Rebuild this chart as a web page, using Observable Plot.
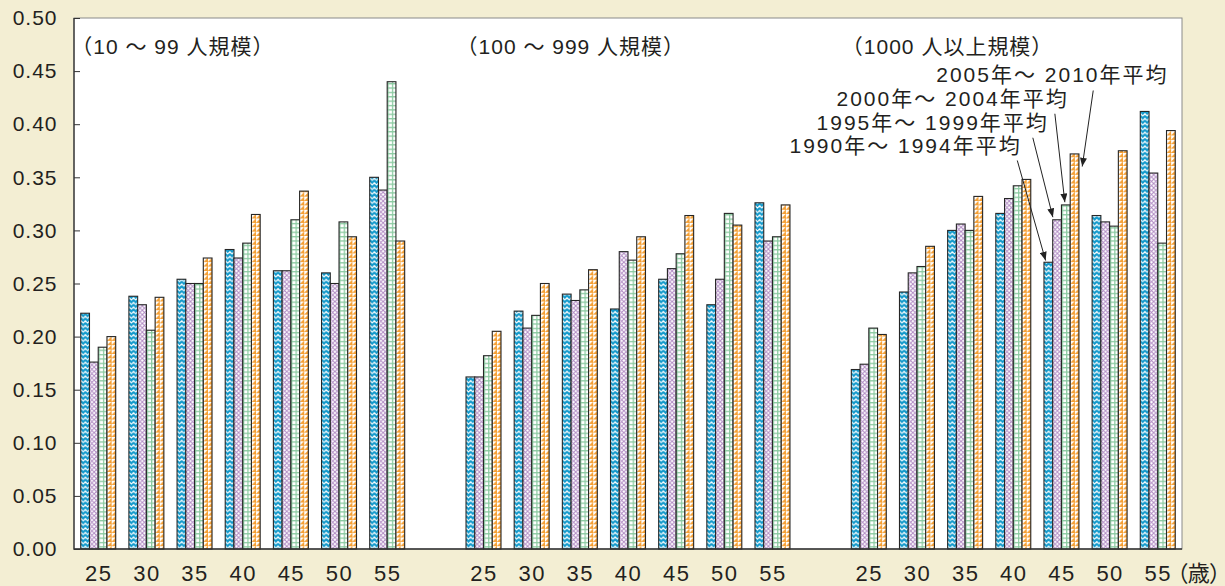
<!DOCTYPE html>
<html><head><meta charset="utf-8">
<script src="https://cdn.jsdelivr.net/npm/d3@7"></script>
<script src="https://cdn.jsdelivr.net/npm/@observablehq/plot@0.6"></script>
<style>
html,body{margin:0;padding:0;background:#f3eed3;}
#chart{width:1225px;height:586px;position:relative;}
#defs{position:absolute;width:0;height:0;}
</style></head><body>
<svg id="defs" width="0" height="0"><defs>
  <pattern id="p0" patternUnits="userSpaceOnUse" width="4.37" height="4.6">
    <rect width="4.37" height="4.6" fill="#fff"/>
    <path d="M-0.2,0.8 L2.185,3.3 L4.57,0.8" fill="none" stroke="#1299cb" stroke-width="2.1"/>
  </pattern>
  <pattern id="p1" patternUnits="userSpaceOnUse" width="4.37" height="4.37">
    <rect width="4.37" height="4.37" fill="#fff"/>
    <path d="M0,0 L4.37,4.37 M4.37,0 L0,4.37" fill="none" stroke="#b18bc4" stroke-width="1.05"/>
  </pattern>
  <pattern id="p2" patternUnits="userSpaceOnUse" width="4.37" height="4.37">
    <rect width="4.37" height="4.37" fill="#fff"/>
    <path d="M0.6,0 V4.37 M0,0.6 H4.37" fill="none" stroke="#8ac9a0" stroke-width="1.25"/>
  </pattern>
  <pattern id="p3" patternUnits="userSpaceOnUse" width="4.37" height="4.37">
    <rect width="4.37" height="4.37" fill="#fff"/>
    <path d="M4.5,-0.4 L4.5,4.5 L-0.4,4.5 Z" fill="#f59f33"/>
  </pattern>
  <marker id="ahead" viewBox="0 0 10 8" refX="10" refY="4" markerWidth="9" markerHeight="7" markerUnits="userSpaceOnUse" orient="auto">
    <path d="M0,0 L10,4 L0,8 Z" fill="#222"/>
  </marker>
</defs></svg>
<div id="chart"></div>
<script>
// ---- data ----
const groupKeys = ["g1", "g2", "g3"];
const groupLabels = ["（10 ～ 99 人規模）", "（100 ～ 999 人規模）", "（1000 人以上規模）"];
const ages = ["25", "30", "35", "40", "45", "50", "55"];
const seriesNames = ["1990年～ 1994年平均", "1995年～ 1999年平均", "2000年～ 2004年平均", "2005年～ 2010年平均"];
const yTicks = [0, 0.05, 0.10, 0.15, 0.20, 0.25, 0.30, 0.35, 0.40, 0.45, 0.50];
const unitLabel = "（歳）";

// 10～99人規模
const g1_1990 = [0.222, 0.238, 0.254, 0.282, 0.262, 0.260, 0.350];
const g1_1995 = [0.176, 0.230, 0.250, 0.274, 0.262, 0.250, 0.338];
const g1_2000 = [0.190, 0.206, 0.250, 0.288, 0.310, 0.308, 0.440];
const g1_2005 = [0.200, 0.237, 0.274, 0.315, 0.337, 0.294, 0.290];
// 100～999人規模
const g2_1990 = [0.162, 0.224, 0.240, 0.226, 0.254, 0.230, 0.326];
const g2_1995 = [0.162, 0.208, 0.234, 0.280, 0.264, 0.254, 0.290];
const g2_2000 = [0.182, 0.220, 0.244, 0.272, 0.278, 0.316, 0.294];
const g2_2005 = [0.205, 0.250, 0.263, 0.294, 0.314, 0.305, 0.324];
// 1000人以上規模
const g3_1990 = [0.169, 0.242, 0.300, 0.316, 0.270, 0.314, 0.412];
const g3_1995 = [0.174, 0.260, 0.306, 0.330, 0.310, 0.308, 0.354];
const g3_2000 = [0.208, 0.266, 0.300, 0.342, 0.324, 0.304, 0.288];
const g3_2005 = [0.202, 0.285, 0.332, 0.348, 0.372, 0.375, 0.394];

const seriesByGroup = [
  [g1_1990, g1_1995, g1_2000, g1_2005],
  [g2_1990, g2_1995, g2_2000, g2_2005],
  [g3_1990, g3_1995, g3_2000, g3_2005]
];

// ---- build table ----
const rows = [];
groupKeys.forEach((g, gi) => {
  seriesByGroup[gi].forEach((vals, si) => {
    vals.forEach((v, ai) => rows.push({slot: g + "-" + ages[ai], si, series: seriesNames[si], value: v}));
  });
});
const fxDomain = [];
groupKeys.forEach((g, gi) => {
  if (gi > 0) fxDomain.push("gap" + gi);
  ages.forEach(a => fxDomain.push(g + "-" + a));
});
const fills = ["url(#p0)", "url(#p1)", "url(#p2)", "url(#p3)"];

// annotation layout (in the 1000+ / age 45 cell, inner x units = bar widths)
const annoCell = "g3-45";
const annoText = [
  {fx: annoCell, x: -2.6, y: 0.3795, text: seriesNames[0]},
  {fx: annoCell, x: 0.5, y: 0.4018, text: seriesNames[1]},
  {fx: annoCell, x: 2.78, y: 0.4240, text: seriesNames[2]},
  {fx: annoCell, x: 14.19, y: 0.4463, text: seriesNames[3]}
];
const annoArrows = [
  {fx: annoCell, x1: -3.11, y1: 0.3663, x2: 0.13, y2: 0.2721},
  {fx: annoCell, x1: -1.33, y1: 0.3877, x2: 0.96, y2: 0.3129},
  {fx: annoCell, x1: 1.19, y1: 0.4103, x2: 2.33, y2: 0.327},
  {fx: annoCell, x1: 5.58, y1: 0.4322, x2: 4.32, y2: 0.3606}
];
const groupLabelRows = groupKeys.map((g, i) => ({fx: g + "-25", text: groupLabels[i]}));

const W = 1225, H = 586, ML = 74, MR = 43, MT = 18, MB = 37;
const font = '"Liberation Sans","Noto Sans CJK JP",sans-serif';

const chart = Plot.plot({
  width: W, height: H,
  marginLeft: ML, marginRight: MR, marginTop: MT, marginBottom: MB,
  style: {background: "transparent", fontFamily: font, color: "#231f20", overflow: "visible", letterSpacing: "1px"},
  fx: {domain: fxDomain, paddingInner: 0.274, paddingOuter: 0.14, round: false},
  x: {domain: [0, 4], axis: null},
  y: {domain: [0, 0.5]},
  marks: [
    ...[0, 1, 2, 3].map(si => Plot.rectY(rows.filter(d => d.si === si), {
      fx: "slot", x1: d => d.si, x2: d => d.si + 1, y: "value",
      fill: fills[si], stroke: "#262626", strokeWidth: 1.1
    })),
    Plot.axisY({ticks: yTicks, tickFormat: d => d.toFixed(2), tickSize: -6, tickPadding: 23, dx: -6.74,
      fontSize: 21, facetAnchor: "left", stroke: "#333"}),
    Plot.axisFx({anchor: "bottom", tickSize: 0, tickPadding: 16, fontSize: 22, label: null,
      tickFormat: k => k.startsWith("gap") ? "" : k.split("-")[1]}),
    Plot.text(groupLabelRows, {fx: "fx", x: 0, y: 0.4727, text: "text", textAnchor: "start", dx: -10, fontSize: 21, fill: "#231f20"}),
    Plot.text([{fx: "g3-55"}], {fx: "fx", x: 4, y: 0, text: () => unitLabel, textAnchor: "start", dx: 1, dy: 24.5, fontSize: 22, fill: "#231f20"}),
    Plot.link(annoArrows, {fx: "fx", x1: "x1", y1: "y1", x2: "x2", y2: "y2", stroke: "#222", strokeWidth: 1}),
    Plot.text(annoText, {fx: "fx", x: "x", y: "y", text: "text", textAnchor: "end", fontSize: 21, fill: "#231f20"})
  ]
});

// plot-area background & frame
const yScale = chart.scale("y");
const yTop = yScale.apply(0.5), yBottom = yScale.apply(0);
const sel = d3.select(chart);
const bg = sel.insert("g", ":first-child");
bg.append("rect").attr("x", ML).attr("y", yTop).attr("width", W - ML - MR).attr("height", yBottom - yTop)
  .attr("fill", "#fff").attr("stroke", "#8a8a8a").attr("stroke-width", 1);
sel.append("path").attr("d", `M${ML},${yTop}V${yBottom}H${W - MR}`).attr("fill", "none").attr("stroke", "#333").attr("stroke-width", 1.3);
sel.selectAll('g[aria-label="link"] path').attr("marker-end", "url(#ahead)");
sel.selectAll('g[aria-label="fx-axis tick label"]').style("letter-spacing", "1.5px");
sel.selectAll("text").each(function () {
  const t = this.textContent;
  if (seriesNames.includes(t)) d3.select(this).style("letter-spacing", "2px");
  if (t === unitLabel) d3.select(this).style("font-feature-settings", '"palt"').style("letter-spacing", "0px");
});
document.getElementById("chart").appendChild(chart);
</script>
</body></html>
